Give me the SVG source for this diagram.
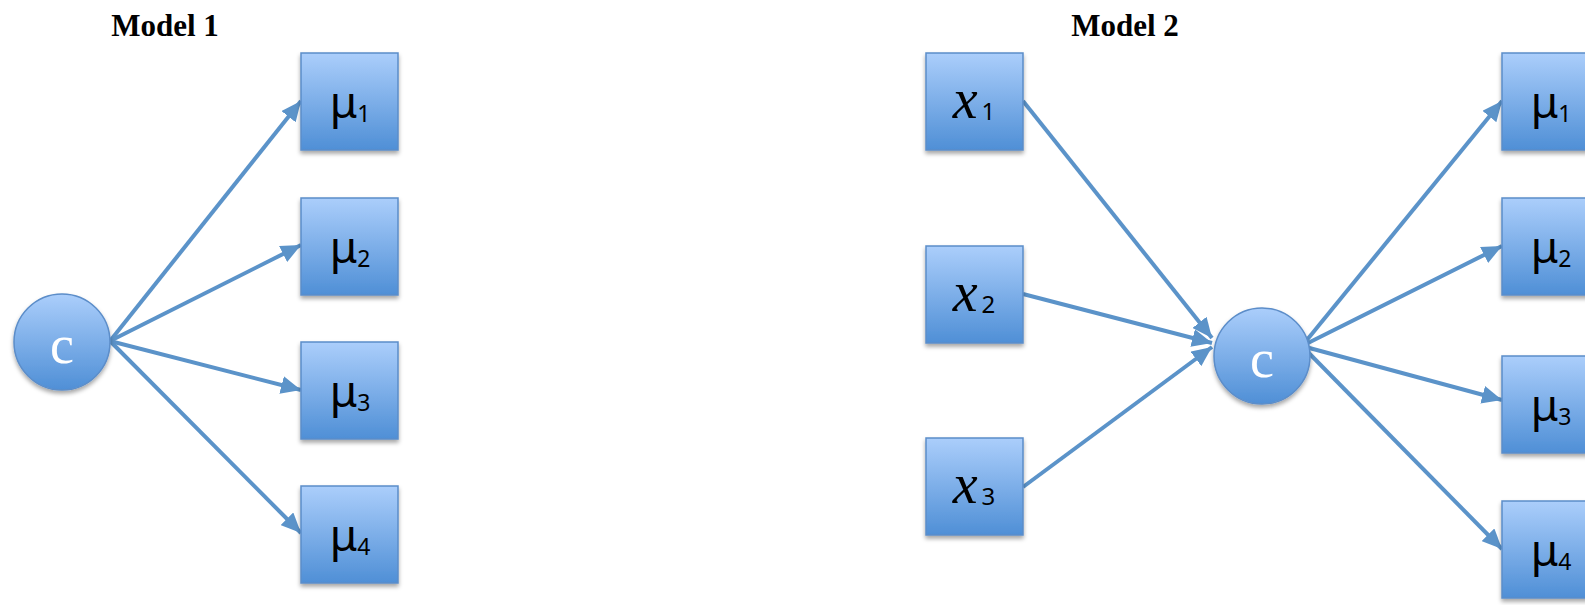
<svg xmlns="http://www.w3.org/2000/svg" width="1585" height="605" viewBox="0 0 1585 605">
<style>
.title{font-family:"Liberation Serif","Times New Roman",serif;font-weight:bold;font-size:31px;fill:#000;text-anchor:middle}
.box{fill:url(#g);stroke:#5b8dc9;stroke-width:1.5;filter:url(#sh)}
.circ{fill:url(#g);stroke:#5b8dc9;stroke-width:1.5;filter:url(#sh)}
.mu{font-family:"Noto Sans","Open Sans",sans-serif;font-size:44px;fill:#000;text-anchor:middle}
.sub{font-size:23px}
.xl{font-family:"Liberation Serif","Times New Roman",serif;font-style:italic;font-size:56px;fill:#000;text-anchor:middle}
.xsub{font-family:"Noto Sans","Open Sans",sans-serif;font-style:normal;font-size:24px}
.cl{font-family:"Liberation Serif","Times New Roman",serif;font-size:54px;fill:#fff;text-anchor:middle}
.edge{stroke:#5b93c9;stroke-width:4;fill:none;marker-end:url(#ah)}
</style>
<defs>
<linearGradient id="g" x1="0" y1="0" x2="0" y2="1">
<stop offset="0" stop-color="#abcefb"/>
<stop offset="1" stop-color="#4f8fd6"/>
</linearGradient>
<filter id="sh" x="-20%" y="-20%" width="140%" height="140%">
<feDropShadow dx="0" dy="3" stdDeviation="2" flood-color="#000" flood-opacity="0.35"/>
</filter>
<marker id="ah" markerUnits="userSpaceOnUse" markerWidth="22" markerHeight="18" refX="20" refY="9" orient="auto">
<path d="M0,0 L20,9 L0,18 z" fill="#5b93c9"/>
</marker>
</defs>
<text class="title" x="165" y="36">Model 1</text>
<text class="title" x="1125" y="36">Model 2</text>
<g id="connectors">
<line class="edge" x1="110" y1="341" x2="301" y2="101"/>
<line class="edge" x1="110" y1="341" x2="301" y2="245"/>
<line class="edge" x1="110" y1="341" x2="301" y2="390"/>
<line class="edge" x1="110" y1="341" x2="301" y2="533"/>
<line class="edge" x1="1023" y1="101" x2="1212" y2="338"/>
<line class="edge" x1="1023" y1="294" x2="1212" y2="343"/>
<line class="edge" x1="1023" y1="487" x2="1212" y2="347"/>
<line class="edge" x1="1302" y1="346" x2="1502" y2="101"/>
<line class="edge" x1="1302" y1="346" x2="1502" y2="246"/>
<line class="edge" x1="1302" y1="346" x2="1502" y2="400"/>
<line class="edge" x1="1296" y1="340" x2="1502" y2="549"/>
</g>
<g id="m1-c"><circle class="circ" cx="62" cy="342" r="48"/><text class="cl" x="62" y="363">c</text></g>
<g id="m1-mu1"><rect class="box" x="301" y="53" width="97" height="97"/><text class="mu" x="350" y="118">μ<tspan class="sub" dy="4">1</tspan></text></g>
<g id="m1-mu2"><rect class="box" x="301" y="198" width="97" height="97"/><text class="mu" x="350" y="263">μ<tspan class="sub" dy="4">2</tspan></text></g>
<g id="m1-mu3"><rect class="box" x="301" y="342" width="97" height="97"/><text class="mu" x="350" y="407">μ<tspan class="sub" dy="4">3</tspan></text></g>
<g id="m1-mu4"><rect class="box" x="301" y="486" width="97" height="97"/><text class="mu" x="350" y="551">μ<tspan class="sub" dy="4">4</tspan></text></g>
<g id="m2-x1"><rect class="box" x="926" y="53" width="97" height="97"/><text class="xl" x="974" y="118">x<tspan class="xsub" dx="4" dy="2">1</tspan></text></g>
<g id="m2-x2"><rect class="box" x="926" y="246" width="97" height="97"/><text class="xl" x="974" y="311">x<tspan class="xsub" dx="4" dy="2">2</tspan></text></g>
<g id="m2-x3"><rect class="box" x="926" y="438" width="97" height="97"/><text class="xl" x="974" y="503">x<tspan class="xsub" dx="4" dy="2">3</tspan></text></g>
<g id="m2-c"><circle class="circ" cx="1262" cy="356" r="48"/><text class="cl" x="1262" y="377">c</text></g>
<g id="m2-mu1"><rect class="box" x="1502" y="53" width="97" height="97"/><text class="mu" x="1551" y="118">μ<tspan class="sub" dy="4">1</tspan></text></g>
<g id="m2-mu2"><rect class="box" x="1502" y="198" width="97" height="97"/><text class="mu" x="1551" y="263">μ<tspan class="sub" dy="4">2</tspan></text></g>
<g id="m2-mu3"><rect class="box" x="1502" y="356" width="97" height="97"/><text class="mu" x="1551" y="421">μ<tspan class="sub" dy="4">3</tspan></text></g>
<g id="m2-mu4"><rect class="box" x="1502" y="501" width="97" height="97"/><text class="mu" x="1551" y="566">μ<tspan class="sub" dy="4">4</tspan></text></g>
</svg>
